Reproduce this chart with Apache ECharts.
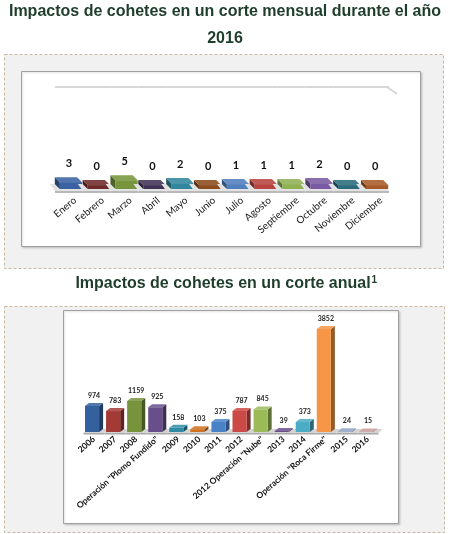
<!DOCTYPE html>
<html><head><meta charset="utf-8">
<script src="https://cdn.jsdelivr.net/npm/echarts@6/dist/echarts.min.js"></script>
<style>html,body{margin:0;padding:0;background:#fff}#c{width:450px;height:534px}</style>
</head><body><div id="c"></div>
<script>
// ---- data ----
const monthCategories = ['Enero','Febrero','Marzo','Abril','Mayo','Junio','Julio','Agosto','Septiembre','Octubre','Noviembre','Diciembre'];
const monthValues = [3,0,5,0,2,0,1,1,1,2,0,0];
const yearCategories = ['2006','2007','2008','Operación "Plomo Fundido"','2009','2010','2011','2012','2012 Operación "Nube"','2013','2014','Operación "Roca Firme"','2015','2016'];
const yearValues = [974,783,1159,925,158,103,375,787,845,39,373,3852,24,15];

// ---- styles ----
const monthColors = ['#3a62a2','#6e2b29','#77953c','#3f3254','#31869d','#8c4a1d','#4f7fbd','#b9433f','#8fb152','#7a5aa3','#2a6b7c','#a65a28'];
const yearColors = ['#35609e','#a33a36','#77933c','#684e8a','#2f8aa6','#d0701c','#4a82c8','#cc4a46','#9bbb59','#6a4f8c','#4bacc6','#f79646','#8fa3c4','#c99a98'];
const MONTH_FLOOR = -4, MONTH_MAX = 100;

function shade(hex, f){
  const n = parseInt(hex.slice(1),16);
  const r=n>>16&255,g=n>>8&255,b=n&255;
  const m = c => f<0 ? Math.round(c*(1+f)) : Math.round(c+(255-c)*f);
  return 'rgb('+m(r)+','+m(g)+','+m(b)+')';
}

function renderMonth(params, api){
  const i = api.value(0), v = api.value(1);
  const top = api.coord([i, v]);
  const base = api.coord([i, MONTH_FLOOR]);
  const wall = api.coord([i, MONTH_MAX]);
  const band = api.size([1,0])[0];
  const cx = top[0], ty = top[1], by = base[1];
  const dx = -5, dy = -5;
  const w = band*0.8;
  const x0 = cx - w/2 + 2, x1 = cx + w/2 + 2;
  const col = monthColors[i];
  const L = cx - band/2, R = cx + band/2;
  const ch = [];
  ch.push({type:'line', shape:{x1:L, y1:wall[1], x2:R, y2:wall[1]}, style:{stroke:'#d6d6d6', lineWidth:2}});
  if (i === monthValues.length-1) ch.push({type:'line', shape:{x1:R-2, y1:wall[1], x2:R+8, y2:wall[1]+7}, style:{stroke:'#d6d6d6', lineWidth:2}});
  ch.push({type:'polygon', shape:{points:[[L,by+2],[R,by+2],[R+dx,by+dy],[L+dx,by+dy]]}, style:{fill:'#e2e2e2'}});
  ch.push({type:'rect', shape:{x:L, y:by+2, width:band, height:2}, style:{fill:'#b8b8b8'}});
  ch.push({type:'polygon', shape:{points:[[x0,ty],[x0+dx,ty+dy],[x0+dx,by+dy],[x0,by]]}, style:{fill:shade(col,-0.35)}});
  ch.push({type:'polygon', shape:{points:[[x0,ty],[x1,ty],[x1+dx,ty+dy],[x0+dx,ty+dy]]}, style:{fill:shade(col,0.12)}});
  ch.push({type:'rect', shape:{x:x0,y:ty,width:x1-x0,height:by-ty}, style:{fill:col}});
  ch.push({type:'text', x:cx, y:ty+dy-8, style:{text:String(v), font:'bold 11px Lato', fill:'#111', align:'center', verticalAlign:'bottom'}});
  return {type:'group', children:ch};
}

function renderYear(params, api){
  const i = api.value(0), v = api.value(1);
  const top = api.coord([i, v]);
  const base = api.coord([i, 0]);
  const band = api.size([1,0])[0];
  const cx = top[0], ty = top[1], by = base[1];
  const dx = 4, dy = -3;
  const x0 = cx - band*0.43, x1 = cx + band*0.24;
  const col = yearColors[i];
  const L = cx - band/2, R = cx + band/2;
  const ch = [];
  ch.push({type:'polygon', shape:{points:[[L,by+1],[R,by+1],[R+dx,by+dy],[L+dx,by+dy]]}, style:{fill:'#d4d4d4'}});
  ch.push({type:'rect', shape:{x:L, y:by+1, width:band, height:1.5}, style:{fill:'#a8a8a8'}});
  ch.push({type:'polygon', shape:{points:[[x1,ty],[x1+dx,ty+dy],[x1+dx,by+dy],[x1,by]]}, style:{fill:shade(col,-0.4)}});
  ch.push({type:'polygon', shape:{points:[[x0,ty],[x1,ty],[x1+dx,ty+dy],[x0+dx,ty+dy]]}, style:{fill:shade(col,0.15)}});
  ch.push({type:'rect', shape:{x:x0,y:ty,width:x1-x0,height:by-ty}, style:{fill:col}});
  ch.push({type:'text', x:cx, y:ty+dy-4, style:{text:String(v), font:'bold 7px Lato', fill:'#222', align:'center', verticalAlign:'bottom'}});
  return {type:'group', children:ch};
}

const chart = echarts.init(document.getElementById('c'), null, {renderer:'canvas'});

// superscript position for second title
const mc = document.createElement('canvas').getContext('2d');
mc.font = 'bold 16px "Liberation Sans"';
const t2 = 'Impactos de cohetes en un corte anual';
const t2w = mc.measureText(t2).width;
const t2cx = 223;

const titleColor = '#1f3d2b';
chart.setOption({
  animation:false,
  graphic:[
    {type:'text', x:225, y:4, z:10, style:{text:'Impactos de cohetes en un corte mensual durante el año', font:'bold 16px "Liberation Sans"', fill:titleColor, align:'center', verticalAlign:'top'}},
    {type:'text', x:225, y:31, z:10, style:{text:'2016', font:'bold 16px "Liberation Sans"', fill:titleColor, align:'center', verticalAlign:'top'}},
    {type:'rect', z:-5, shape:{x:4.5, y:54.5, width:439, height:214}, style:{fill:'#f1f1f1', stroke:'#c9b6a3', lineDash:[3,2], lineWidth:1}},
    {type:'rect', z:-4, shape:{x:21.5, y:71.5, width:399, height:175}, style:{fill:'#ffffff', stroke:'#a0a0a0', lineWidth:1, shadowColor:'rgba(0,0,0,0.15)', shadowBlur:2, shadowOffsetX:1, shadowOffsetY:1}},
    {type:'text', x:t2cx, y:276, z:10, style:{text:t2, font:'bold 16px "Liberation Sans"', fill:titleColor, align:'center', verticalAlign:'top'}},
    {type:'text', x:t2cx + t2w/2 + 1, y:275, z:10, style:{text:'1', font:'bold 10px "Liberation Sans"', fill:titleColor, align:'left', verticalAlign:'top'}},
    {type:'rect', z:-5, shape:{x:4.5, y:306.5, width:440, height:226}, style:{fill:'#f1f1f1', stroke:'#c9b6a3', lineDash:[3,2], lineWidth:1}},
    {type:'rect', z:-4, shape:{x:63.5, y:310.5, width:335, height:213}, style:{fill:'#ffffff', stroke:'#a0a0a0', lineWidth:1, shadowColor:'rgba(0,0,0,0.15)', shadowBlur:2, shadowOffsetX:1, shadowOffsetY:1}}
  ],
  grid:[
    {left:55, top:87, width:334, height:102},
    {left:83.5, top:325, width:295, height:107},
    {left:61, top:87, width:334, height:102}
  ],
  xAxis:[
    {gridIndex:0, type:'category', data:monthCategories, show:false},
    {gridIndex:1, type:'category', data:yearCategories, axisLine:{show:false}, axisTick:{show:false},
      axisLabel:{rotate:41, interval:0, margin:6, fontFamily:'Lato', fontWeight:'bold', fontSize:8.5, color:'#111'}},
    {gridIndex:2, type:'category', data:monthCategories, axisLine:{show:false}, axisTick:{show:false},
      axisLabel:{rotate:40, interval:0, margin:10, fontFamily:'Lato', fontSize:10, color:'#1a1a1a'}}
  ],
  yAxis:[
    {gridIndex:0, type:'value', min:MONTH_FLOOR, max:MONTH_MAX, show:false},
    {gridIndex:1, type:'value', min:0, max:4000, show:false},
    {gridIndex:2, type:'value', min:0, max:1, show:false}
  ],
  series:[
    {type:'custom', xAxisIndex:0, yAxisIndex:0, renderItem:renderMonth, data:monthValues.map((v,i)=>[i,v]), encode:{x:0,y:1}, clip:false},
    {type:'custom', xAxisIndex:1, yAxisIndex:1, renderItem:renderYear, data:yearValues.map((v,i)=>[i,v]), encode:{x:0,y:1}, clip:false}
  ]
});
</script></body></html>
